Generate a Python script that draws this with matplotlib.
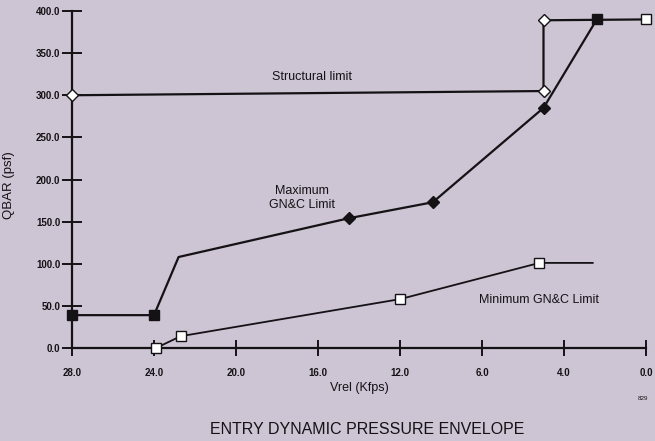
import numpy as np
import matplotlib.pyplot as plt

plt.rcParams['font.family'] = ['Liberation Sans', 'DejaVu Sans']

# Vrel tick values are spaced evenly on the axis even though they are not uniform
vrel_ticks = [0.0, 4.0, 6.0, 12.0, 16.0, 20.0, 24.0, 28.0]
vrel_labels = ['0.0', '4.0', '6.0', '12.0', '16.0', '20.0', '24.0', '28.0']
qbar_ticks = [0, 50, 100, 150, 200, 250, 300, 350, 400]

# Structural limit (open diamonds)
struct_v = [28.0, 4.5, 4.5, 0.0]
struct_q = [300.0, 305.0, 389.0, 390.0]

# Maximum GN&C limit
max_v = [28.0, 24.0, 22.8, 14.5, 9.6, 4.5, 2.4]
max_q = [39.0, 39.0, 108.0, 154.0, 173.0, 285.0, 390.0]

# Minimum GN&C limit
min_v = [23.9, 22.7, 12.0, 4.6, 2.6]
min_q = [0.0, 14.0, 58.0, 101.0, 101.0]

bg = '#cdc4d4'
ink = '#151215'

pos = np.arange(len(vrel_ticks), dtype=float)


def fwd(v):
    return np.interp(v, vrel_ticks, pos)


def inv(p):
    return np.interp(p, pos, vrel_ticks)


fig = plt.figure(figsize=(6.55, 4.41), dpi=100, facecolor=bg)
ax = fig.add_axes([72 / 655, 1 - 348 / 441, 574 / 655, 337 / 441], facecolor=bg)
ax.set_xscale('function', functions=(fwd, inv))
ax.set_xlim(28, 0)
ax.set_ylim(0, 400)

lw = 1.6
# structural limit
ax.plot(struct_v, struct_q, color=ink, lw=lw, clip_on=False, zorder=2)
ax.plot(struct_v[:3], struct_q[:3], ls='none', marker='D', ms=6, mfc='white',
        mec=ink, mew=1.0, clip_on=False, zorder=4)
ax.plot(struct_v[3:], struct_q[3:], ls='none', marker='s', ms=7.5, mfc='white',
        mec=ink, mew=1.0, clip_on=False, zorder=4)

# maximum GN&C limit
ax.plot(max_v, max_q, color=ink, lw=lw, clip_on=False, zorder=3)
ax.plot([max_v[i] for i in (0, 1, 6)], [max_q[i] for i in (0, 1, 6)], ls='none',
        marker='s', ms=7.5, mfc=ink, mec=ink, clip_on=False, zorder=4)
ax.plot([max_v[i] for i in (3, 4, 5)], [max_q[i] for i in (3, 4, 5)], ls='none',
        marker='D', ms=6, mfc=ink, mec=ink, clip_on=False, zorder=4)

# minimum GN&C limit
ax.plot(min_v, min_q, color=ink, lw=1.3, clip_on=False, zorder=3)
ax.plot(min_v[:4], min_q[:4], ls='none', marker='s', ms=7.5, mfc='white',
        mec=ink, mew=1.0, clip_on=False, zorder=4)

for s in ('top', 'right'):
    ax.spines[s].set_visible(False)
for s in ('left', 'bottom'):
    ax.spines[s].set_linewidth(1.6)
    ax.spines[s].set_color(ink)

ax.set_xticks(vrel_ticks)
ax.set_xticklabels(vrel_labels)
ax.set_yticks(qbar_ticks)
ax.set_yticklabels(['%.1f' % q for q in qbar_ticks])
ax.tick_params(axis='x', direction='inout', length=11, width=1.4, color=ink,
               labelsize=7, pad=9, labelcolor=ink)
ax.tick_params(axis='y', direction='inout', length=15, width=1.4, color=ink,
               labelsize=7, pad=1, labelcolor=ink)
for lab in ax.get_xticklabels() + ax.get_yticklabels():
    lab.set_fontweight('bold')
ax.minorticks_off()

ax.set_xlabel('Vrel (Kfps)', fontsize=9, color=ink, labelpad=3)
ax.set_ylabel('QBAR (psf)', fontsize=9.5, color=ink)
ax.yaxis.set_label_coords(-57 / 574, 163 / 337)

ax.text(16.3, 322, 'Structural limit', fontsize=9, ha='center', va='center', color=ink)
ax.text(16.8, 178, 'Maximum\nGN&C Limit', fontsize=9, ha='center', va='center',
        color=ink, linespacing=1.2)
ax.text(4.6, 57, 'Minimum GN&C Limit', fontsize=9, ha='center', va='center', color=ink)

fig.text(643 / 655, 1 - 398 / 441, '829', fontsize=4.5, ha='center', va='center', color=ink)
fig.text(367 / 655, 1 - 430 / 441, 'ENTRY DYNAMIC PRESSURE ENVELOPE', fontsize=11.5,
         ha='center', va='center', color=ink)

fig.savefig('out.png', dpi=100, facecolor=bg)
